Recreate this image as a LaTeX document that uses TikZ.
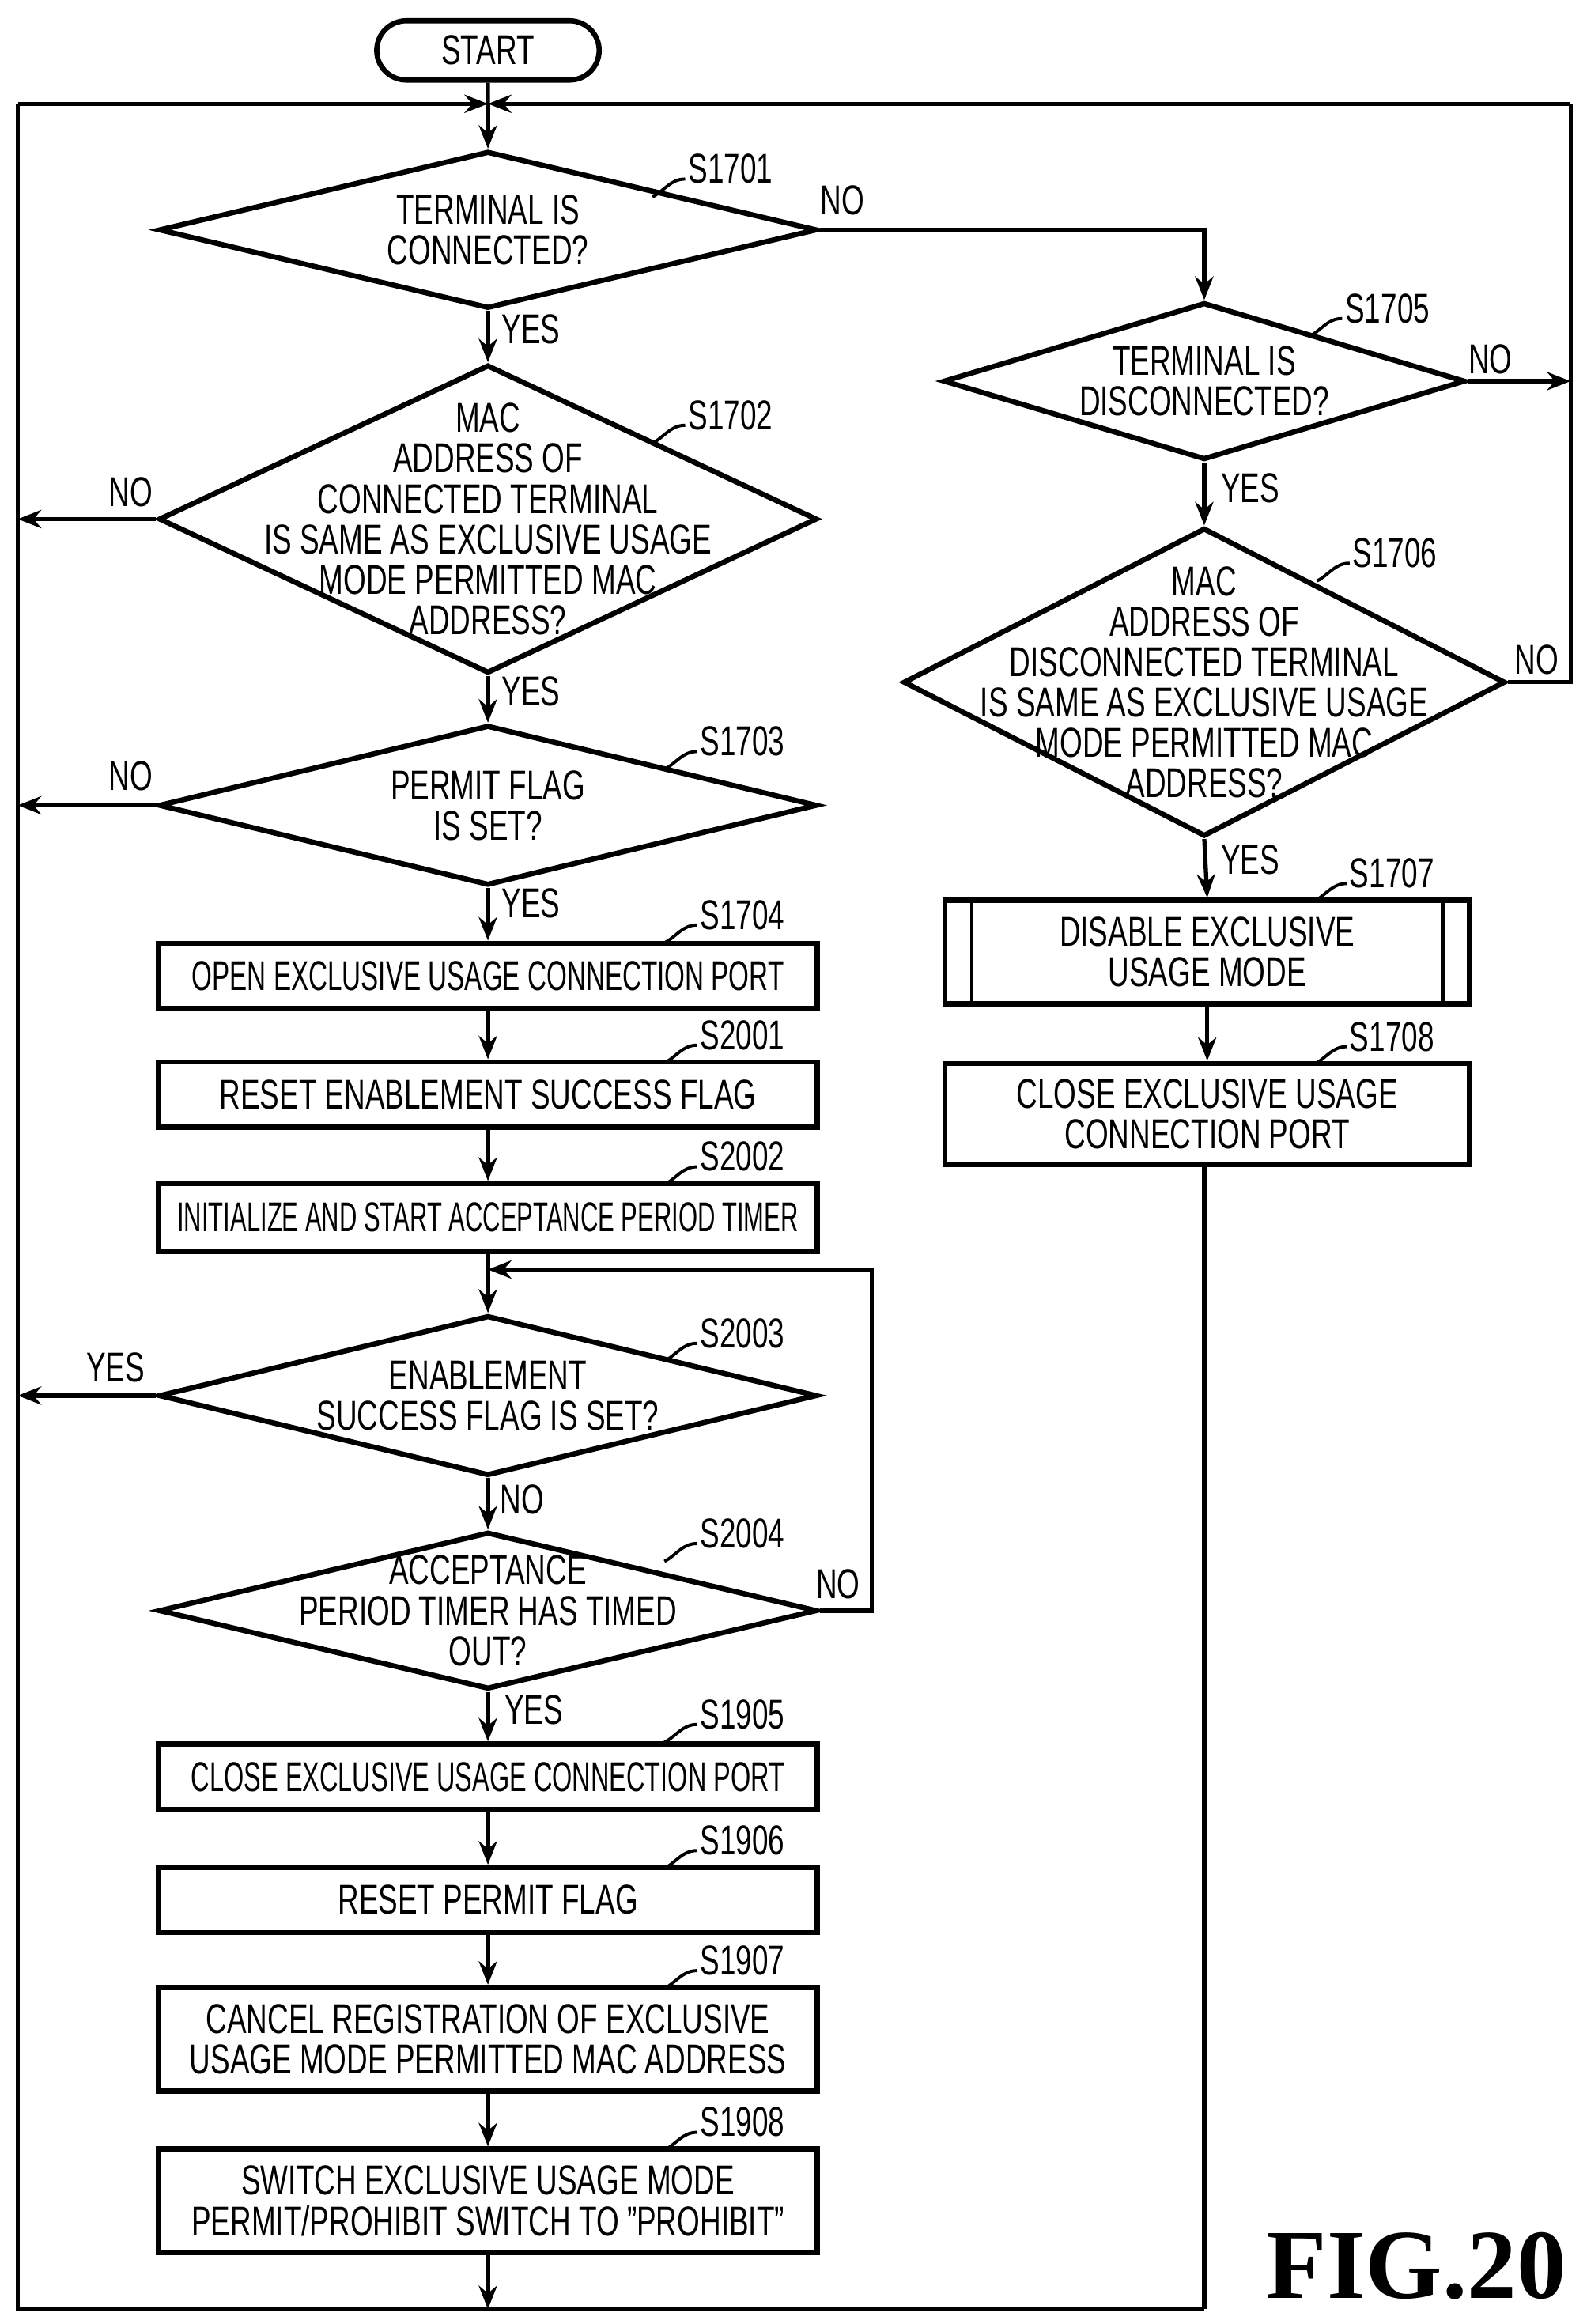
\documentclass[tikz,border=0pt]{standalone}
\usepackage{fontspec}
\setmainfont{Liberation Sans}[FakeStretch=0.7]
\newfontfamily\figfont{Liberation Serif}
\usetikzlibrary{positioning, arrows.meta, shapes.geometric, shapes.misc}

\tikzset{
    line/.style={line width=1.6pt},
    flow/.style={line, -{Stealth[length=9pt,width=7pt]}},
    proc/.style={rectangle, draw, line width=2pt, minimum width=8.88cm, inner sep=0pt},
    dec/.style={diamond, draw, line width=2pt, inner sep=0pt},
    txt/.style={align=center, font=\fontsize{16}{15.5}\selectfont, inner sep=0pt},
    tag/.style={font=\fontsize{16}{16}\selectfont, inner sep=1pt},
    tick/.style={line width=1.2pt}
}

\newcommand{\steptag}[3]{% position, name, text
    \node[tag, anchor=south west] (#2) at #1 {#3};
    \draw[tick] ([yshift=3pt]#2.south west) .. controls +(-10,0) and +(8,-4) .. ++(-22,12);
}

\begin{document}
\begin{tikzpicture}[x=0.02cm, y=-0.02cm]
\useasboundingbox (0,0) rectangle (1070,1567);

% start and outer loop
\node[rounded rectangle, draw, line width=2pt, minimum width=3cm, minimum height=0.8cm, txt] (start) at (329,34) {START};
\coordinate (top) at (329,70);
\coordinate (tl) at (12,70);
\coordinate (tr) at (1059,70);
\coordinate (bl) at (12,1557);
\coordinate (bm) at (329,1557);
\coordinate (br) at (812,1557);
\draw[line] (start) -- (top);
\draw[flow] (tl) -- (top);
\draw[flow] (tr) -- (top);
\draw[line] (tl) -- (bl) -- (br);

% left column
\node[dec, minimum width=8.88cm, minimum height=2.12cm] (s1701) at (329,155) {};
\node[txt] at (s1701) {TERMINAL IS\\CONNECTED?};
\node[dec, minimum width=8.88cm, minimum height=4.16cm] (s1702) at (329,350) {};
\node[txt] at (s1702) {MAC\\ADDRESS OF\\CONNECTED TERMINAL\\IS SAME AS EXCLUSIVE USAGE\\MODE PERMITTED MAC\\ADDRESS?};
\node[dec, minimum width=8.88cm, minimum height=2.16cm] (s1703) at (329,543) {};
\node[txt] at (s1703) {PERMIT FLAG\\IS SET?};
\node[proc, minimum height=0.88cm, txt] (s1704) at (329,658) {\scalebox{0.9}[1]{OPEN EXCLUSIVE USAGE CONNECTION PORT}};
\node[proc, minimum height=0.88cm, txt] (s2001) at (329,738) {RESET ENABLEMENT SUCCESS FLAG};
\node[proc, minimum height=0.92cm, txt] (s2002) at (329,821) {\scalebox{0.84}[1]{INITIALIZE AND START ACCEPTANCE PERIOD TIMER}};
\coordinate (merge) at (329,856);
\node[dec, minimum width=8.88cm, minimum height=2.16cm] (s2003) at (329,941) {};
\node[txt] at (s2003) {ENABLEMENT\\SUCCESS FLAG IS SET?};
\node[dec, minimum width=8.88cm, minimum height=2.12cm] (s2004) at (329,1086) {};
\node[txt] at (s2004) {ACCEPTANCE\\PERIOD TIMER HAS TIMED\\OUT?};
\node[proc, minimum height=0.88cm, txt] (s1905) at (329,1198) {\scalebox{0.88}[1]{CLOSE EXCLUSIVE USAGE CONNECTION PORT}};
\node[proc, minimum height=0.88cm, txt] (s1906) at (329,1281) {RESET PERMIT FLAG};
\node[proc, minimum height=1.4cm, txt] (s1907) at (329,1375) {CANCEL REGISTRATION OF EXCLUSIVE\\USAGE MODE PERMITTED MAC ADDRESS};
\node[proc, minimum height=1.4cm, txt] (s1908) at (329,1484) {SWITCH EXCLUSIVE USAGE MODE\\PERMIT/PROHIBIT SWITCH TO "PROHIBIT"};

% right column
\node[dec, minimum width=7.04cm, minimum height=2.12cm] (s1705) at (812,257) {};
\node[txt] at (s1705) {TERMINAL IS\\DISCONNECTED?};
\node[dec, minimum width=8.12cm, minimum height=4.16cm] (s1706) at (812,460) {};
\node[txt] at (s1706) {MAC\\ADDRESS OF\\DISCONNECTED TERMINAL\\IS SAME AS EXCLUSIVE USAGE\\MODE PERMITTED MAC\\ADDRESS?};
\node[proc, minimum width=7.08cm, minimum height=1.4cm, txt] (s1707) at (814,642) {DISABLE EXCLUSIVE\\USAGE MODE};
\draw[line width=1.4pt] ([xshift=0.4cm]s1707.north west) -- ([xshift=0.4cm]s1707.south west)
    ([xshift=-0.4cm]s1707.north east) -- ([xshift=-0.4cm]s1707.south east);
\node[proc, minimum width=7.08cm, minimum height=1.36cm, txt] (s1708) at (814,751) {CLOSE EXCLUSIVE USAGE\\CONNECTION PORT};

% connectors
\draw[flow] (top) -- (s1701.north);
\draw[flow] (s1701.south) -- (s1702.north);
\draw[flow] (s1702.south) -- (s1703.north);
\draw[flow] (s1703.south) -- (s1704.north);
\draw[flow] (s1704.south) -- (s2001.north);
\draw[flow] (s2001.south) -- (s2002.north);
\draw[flow] (s2002.south) -- (s2003.north);
\draw[flow] (s2003.south) -- (s2004.north);
\draw[flow] (s2004.south) -- (s1905.north);
\draw[flow] (s1905.south) -- (s1906.north);
\draw[flow] (s1906.south) -- (s1907.north);
\draw[flow] (s1907.south) -- (s1908.north);
\draw[flow] (s1908.south) -- (bm);
\draw[flow] (s1701.east) -| (s1705.north);
\draw[flow] (s1702.west) -- (12,350);
\draw[flow] (s1703.west) -- (12,543);
\draw[flow] (s2003.west) -- (12,941);
\draw[flow] (s2004.east) -- (588,1086) |- (merge);
\draw[flow] (s1705.east) -- (1059,257);
\draw[line] (s1706.east) -| (tr);
\draw[flow] (s1705.south) -- (s1706.north);
\draw[flow] (s1706.south) -- (s1707.north);
\draw[flow] (s1707.south) -- (s1708.north);
\draw[line] (s1708.south -| br) -- (br);

% branch labels
\node[txt] at (568,135) {NO};
\node[txt] at (358,222) {YES};
\node[txt] at (88,332) {NO};
\node[txt] at (358,466) {YES};
\node[txt] at (88,523) {NO};
\node[txt] at (358,609) {YES};
\node[txt] at (78,922) {YES};
\node[txt] at (352,1011) {NO};
\node[txt] at (565,1068) {NO};
\node[txt] at (360,1153) {YES};
\node[txt] at (1005,242) {NO};
\node[txt] at (843,329) {YES};
\node[txt] at (1036,445) {NO};
\node[txt] at (843,580) {YES};

% step numbers
\steptag{(462,126)}{t1701}{S1701}
\steptag{(462,292)}{t1702}{S1702}
\steptag{(470,512)}{t1703}{S1703}
\steptag{(470,629)}{t1704}{S1704}
\steptag{(470,710)}{t2001}{S2001}
\steptag{(470,792)}{t2002}{S2002}
\steptag{(470,911)}{t2003}{S2003}
\steptag{(470,1046)}{t2004}{S2004}
\steptag{(470,1168)}{t1905}{S1905}
\steptag{(470,1253)}{t1906}{S1906}
\steptag{(470,1334)}{t1907}{S1907}
\steptag{(470,1443)}{t1908}{S1908}
\steptag{(905,220)}{t1705}{S1705}
\steptag{(910,385)}{t1706}{S1706}
\steptag{(908,601)}{t1707}{S1707}
\steptag{(908,711)}{t1708}{S1708}

\node[font=\figfont\bfseries\fontsize{38}{38}\selectfont, inner sep=0pt] (fig) at (955,1528) {FIG.20};
\end{tikzpicture}
\end{document}
